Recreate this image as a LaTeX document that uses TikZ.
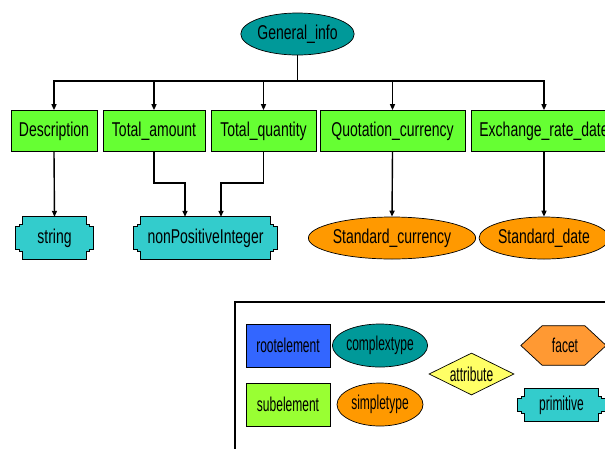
\documentclass[tikz,border=0pt]{standalone}
\usepackage{fontspec}
\setmainfont{Liberation Sans}[FakeStretch=0.7]
\newfontfamily\legfont{Liberation Sans}[FakeStretch=0.6]
\usetikzlibrary{arrows.meta,shapes.geometric,calc,backgrounds}
\definecolor{elgreen}{HTML}{66FF33}
\definecolor{subgreen}{HTML}{99FF33}
\definecolor{teal}{HTML}{009999}
\definecolor{primcyan}{HTML}{33CCCC}
\definecolor{simporange}{HTML}{FF9900}
\definecolor{facetorange}{HTML}{FF9933}
\definecolor{rootblue}{HTML}{3366FF}
\definecolor{attryellow}{HTML}{FFFF66}
\tikzset{
  lbl/.style={font=\fontsize{20}{20}\selectfont, text=black, inner sep=0pt},
  leglbl/.style={font=\legfont\fontsize{20}{20}\selectfont, text=black, inner sep=0pt},
  elbox/.style={lbl, rectangle, draw=black, line width=0.7pt, fill=elgreen, minimum height=41pt},
  cplx/.style={lbl, ellipse, draw=black, line width=0.7pt, fill=teal},
  simp/.style={lbl, ellipse, draw=black, line width=0.7pt, fill=simporange},
  primnode/.style={lbl, rectangle, minimum height=42pt},
  primline/.style={draw=black, line width=0.7pt, fill=primcyan},
  conn/.style={draw=black, line width=1.4pt, -{Triangle[length=6pt,width=5pt]}},
  line/.style={draw=black, line width=1.4pt},
}
\newcommand\primoutline[1]{%
  \path[primline] (#1.north west) -- (#1.north east) -- ++(0,8) -- ++(3,0) -- ++(0,2) -- ++(4,0)
    -- ($(#1.south east)+(7,-10)$) -- ++(-4,0) -- ++(0,2) -- ++(-3,0) -- (#1.south east)
    -- (#1.south west) -- ++(0,-8) -- ++(-3,0) -- ++(0,-2) -- ++(-4,0)
    -- ($(#1.north west)+(-7,10)$) -- ++(4,0) -- ++(0,-2) -- ++(3,0) -- cycle;}
\begin{document}
\begin{tikzpicture}[x=1pt,y=-1pt]
\clip (0,0) rectangle (605,448);
% root
\node[cplx, minimum width=112pt, minimum height=42pt] (gi) at (297.5,34) {General\_info};
% elements
\node[elbox, minimum width=86pt]  (desc) at (54,131) {Description};
\node[elbox, minimum width=102pt] (tamt) at (154,131) {Total\_amount};
\node[elbox, minimum width=105pt] (tqty) at (263.5,131) {Total\_quantity};
\node[elbox, minimum width=145pt] (qcur) at (392.5,131) {Quotation\_currency};
\node[elbox, minimum width=146pt] (xdate) at (544,131) {Exchange\_rate\_date};
% types
\node[primnode, minimum width=63pt] (str) at (54.5,238) {string};
\node[primnode, minimum width=129pt] (npi) at (205.5,238) {nonPositiveInteger};
\node[simp, minimum width=148pt, minimum height=42pt] (scur) at (392,238) {Standard\_currency};
\node[simp, minimum width=119pt, minimum height=42pt] (sdate) at (544,238) {Standard\_date};
% legend
\node[leglbl, rectangle, draw=black, line width=0.7pt, fill=rootblue, minimum width=84pt, minimum height=43pt] (lroot) at (288,345.5) {rootelement};
\node[leglbl, ellipse, draw=black, line width=0.7pt, fill=teal, minimum width=86pt, minimum height=43pt] (lcplx) at (380,345.5) {complextype};
\node[leglbl, rectangle, draw=black, line width=0.7pt, fill=subgreen, minimum width=84pt, minimum height=43pt] (lsub) at (288,404.5) {subelement};
\node[leglbl, ellipse, draw=black, line width=0.7pt, fill=simporange, minimum width=86pt, minimum height=43pt] (lsimp) at (380,404.5) {simpletype};
\node[leglbl, diamond, draw=black, line width=0.7pt, fill=attryellow, minimum width=85pt, minimum height=42pt, aspect=2] (lattr) at (471.5,374) {attribute};
\node[leglbl, regular polygon, regular polygon sides=6, shape border rotate=0, draw=black, line width=0.7pt, fill=facetorange, minimum size=88pt, yscale=0.52, xscale=0.97] (lfacet) at (563.5,345.5) {};
\node[leglbl] (lfacett) at (565,345.5) {facet};
\node[primnode, font=\legfont\fontsize{20}{20}\selectfont, minimum width=73pt, minimum height=33pt] (lprim) at (561.5,405) {primitive};
\begin{scope}[on background layer]
\fill[white] (0,0) rectangle (605,448);
\primoutline{str}
\primoutline{npi}
\primoutline{lprim}
\end{scope}
\draw[black, line width=2pt] (615,302) -- (235,302) -- (235,460);
% connectors
\coordinate (bar) at (297.5,81);
\draw[line] (gi.south) -- (bar);
\draw[conn] (bar) -| (desc.north);
\draw[conn] (bar) -| (tamt.north);
\draw[conn] (bar) -| (tqty.north);
\draw[conn] (bar) -| (qcur.north);
\draw[conn] (bar) -| (xdate.north);
\draw[conn] (desc.south) -- (str.north);
\coordinate (ja) at (185,183);
\coordinate (jq) at (221,183);
\draw[conn] (tamt.south) |- (ja) -- (ja |- npi.north);
\draw[conn] (tqty.south) |- (jq) -- (jq |- npi.north);
\draw[conn] (qcur.south) -- (scur.north);
\draw[conn] (xdate.south) -- (sdate.north);
\end{tikzpicture}
\end{document}
